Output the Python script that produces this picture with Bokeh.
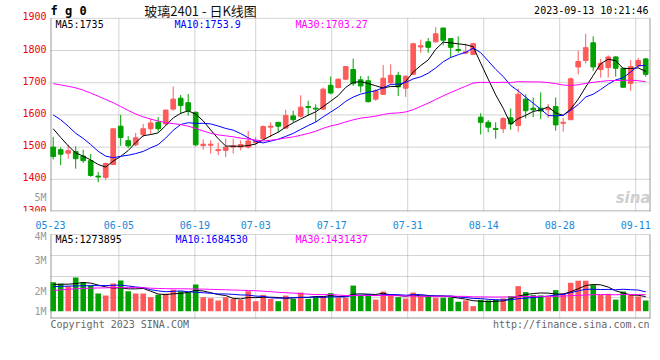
import numpy as np
from bokeh.plotting import figure
from bokeh.models import FixedTicker, ColumnDataSource, Range1d
from bokeh.layouts import column
from bokeh.embed import file_html
from bokeh.resources import INLINE
from bokeh.core.properties import value

# ---------------- data ----------------
dates = ["05-23", "05-24", "05-25", "05-26", "05-29", "05-30", "05-31", "06-01", "06-02", "06-05",
         "06-06", "06-07", "06-08", "06-09", "06-12", "06-13", "06-14", "06-15", "06-16", "06-19",
         "06-20", "06-21", "06-26", "06-27", "06-28", "06-29", "06-30", "07-03", "07-04", "07-05",
         "07-06", "07-07", "07-10", "07-11", "07-12", "07-13", "07-14", "07-17", "07-18", "07-19",
         "07-20", "07-21", "07-24", "07-25", "07-26", "07-27", "07-28", "07-31", "08-01", "08-02",
         "08-03", "08-04", "08-07", "08-08", "08-09", "08-10", "08-11", "08-14", "08-15", "08-16",
         "08-17", "08-18", "08-21", "08-22", "08-23", "08-24", "08-25", "08-28", "08-29", "08-30",
         "08-31", "09-01", "09-04", "09-05", "09-06", "09-07", "09-08", "09-11", "09-12", "09-13"]

opens = [1500, 1492, 1481, 1486, 1472, 1458, 1410, 1406, 1446, 1565,
         1520, 1507, 1539, 1557, 1577, 1572, 1618, 1652, 1638, 1608,
         1505, 1506, 1489, 1490, 1500, 1500, 1500, 1514, 1526, 1562,
         1577, 1559, 1597, 1596, 1626, 1621, 1618, 1692, 1685, 1711,
         1741, 1709, 1706, 1649, 1664, 1700, 1723, 1683, 1726, 1811,
         1827, 1827, 1870, 1837, 1803, 1792, 1788, 1593, 1577, 1558,
         1557, 1591, 1567, 1649, 1621, 1621, 1616, 1626, 1574, 1585,
         1749, 1769, 1824, 1741, 1747, 1780, 1745, 1698, 1752, 1774]
highs = [1531, 1499, 1507, 1502, 1492, 1479, 1423, 1452, 1557, 1600,
         1534, 1544, 1572, 1589, 1593, 1615, 1688, 1662, 1665, 1611,
         1524, 1521, 1514, 1526, 1526, 1521, 1550, 1531, 1567, 1577,
         1577, 1616, 1613, 1661, 1644, 1633, 1685, 1719, 1713, 1752,
         1775, 1721, 1721, 1680, 1755, 1757, 1734, 1723, 1824, 1834,
         1839, 1872, 1870, 1839, 1844, 1821, 1824, 1605, 1584, 1577,
         1593, 1620, 1682, 1664, 1654, 1670, 1634, 1654, 1591, 1716,
         1800, 1852, 1844, 1774, 1785, 1783, 1747, 1770, 1777, 1777]
lows = [1462, 1444, 1464, 1433, 1451, 1408, 1391, 1398, 1444, 1504,
        1497, 1503, 1531, 1539, 1548, 1567, 1613, 1603, 1598, 1503,
        1492, 1480, 1475, 1469, 1480, 1490, 1495, 1505, 1524, 1531,
        1546, 1557, 1577, 1592, 1598, 1577, 1616, 1664, 1682, 1708,
        1690, 1670, 1639, 1644, 1662, 1695, 1659, 1656, 1724, 1793,
        1793, 1825, 1816, 1777, 1793, 1788, 1786, 1539, 1546, 1526,
        1544, 1554, 1548, 1589, 1593, 1587, 1591, 1551, 1548, 1585,
        1726, 1760, 1736, 1716, 1716, 1719, 1685, 1675, 1747, 1719]
closes = [1471, 1478, 1489, 1464, 1458, 1412, 1407, 1449, 1557, 1530,
          1504, 1529, 1557, 1575, 1557, 1615, 1649, 1629, 1613, 1507,
          1509, 1509, 1492, 1500, 1504, 1508, 1519, 1518, 1564, 1565,
          1565, 1598, 1585, 1624, 1623, 1618, 1680, 1668, 1711, 1750,
          1697, 1690, 1641, 1675, 1714, 1723, 1687, 1720, 1821, 1815,
          1810, 1852, 1832, 1810, 1800, 1796, 1821, 1577, 1562, 1555,
          1589, 1572, 1664, 1613, 1616, 1612, 1620, 1569, 1577, 1712,
          1766, 1809, 1749, 1760, 1780, 1745, 1686, 1750, 1769, 1726]

ma5 = [1557, 1530, 1504, 1482, 1472.0, 1460.2, 1446.0, 1438.0, 1456.6, 1471.0,
       1489.4, 1513.8, 1535.4, 1539.0, 1544.4, 1566.6, 1590.6, 1605.0, 1612.6, 1602.6,
       1581.4, 1553.4, 1526.0, 1503.4, 1502.8, 1502.6, 1504.6, 1509.8, 1522.6, 1534.8,
       1546.2, 1562.0, 1575.4, 1587.4, 1599.0, 1609.6, 1626.0, 1642.6, 1660.0, 1685.4,
       1701.2, 1703.2, 1697.8, 1690.6, 1683.4, 1688.6, 1688.0, 1703.8, 1733.0, 1753.2,
       1770.6, 1803.6, 1826.0, 1823.8, 1820.8, 1818.0, 1811.8, 1760.8, 1711.2, 1662.2,
       1620.8, 1571.0, 1588.4, 1598.6, 1610.8, 1615.4, 1625.0, 1606.0, 1598.8, 1618.0,
       1648.8, 1686.6, 1722.6, 1759.2, 1772.8, 1768.6, 1744.0, 1744.2, 1746.0, 1735.2]
ma10 = [1600, 1585, 1565, 1543, 1527, 1508, 1487, 1472, 1467, 1471.5,
        1474.8, 1479.9, 1486.7, 1497.8, 1507.7, 1528.0, 1552.2, 1570.2, 1575.8, 1573.5,
        1574.0, 1572.0, 1565.5, 1558.0, 1552.7, 1542.0, 1529.0, 1517.9, 1513.0, 1518.8,
        1524.4, 1533.3, 1542.6, 1555.0, 1566.9, 1577.9, 1594.0, 1609.0, 1623.7, 1642.2,
        1655.4, 1664.6, 1670.2, 1675.3, 1684.4, 1694.9, 1695.6, 1700.8, 1711.8, 1718.3,
        1729.6, 1745.8, 1764.9, 1778.4, 1787.0, 1794.3, 1807.7, 1793.4, 1767.5, 1741.5,
        1719.4, 1691.4, 1674.6, 1654.9, 1636.5, 1618.1, 1598.0, 1597.2, 1598.7, 1614.4,
        1632.1, 1655.8, 1664.3, 1679.0, 1695.4, 1708.7, 1715.3, 1733.4, 1752.6, 1754.0]
ma30 = [1697, 1693, 1689, 1684, 1677, 1668, 1658, 1648, 1638, 1626,
        1614, 1603, 1594, 1587, 1581, 1576, 1573, 1570, 1565, 1558,
        1550, 1543, 1538, 1535, 1532, 1528, 1525, 1522, 1519, 1521.3,
        1524.4, 1528.4, 1531.6, 1536.9, 1542.4, 1549.3, 1558.4, 1565.7, 1570.8, 1578.2,
        1584.6, 1590.0, 1592.8, 1596.1, 1601.3, 1604.9, 1606.2, 1609.2, 1616.2, 1626.4,
        1636.5, 1647.9, 1659.2, 1669.6, 1679.4, 1689.0, 1699.1, 1701.1, 1701.0, 1700.7,
        1701.5, 1700.6, 1703.2, 1702.9, 1702.6, 1702.4, 1700.4, 1697.1, 1692.7, 1691.4,
        1693.7, 1697.7, 1701.3, 1704.1, 1706.3, 1707.0, 1707.0, 1708.0, 1706.3, 1703.3]

# volume, millions
volumes = [2.52, 2.38, 2.14, 2.93, 2.52, 2.23, 1.54, 1.36, 2.41, 2.67,
           1.74, 1.54, 1.54, 1.22, 1.42, 1.51, 1.86, 1.74, 1.65, 2.32,
           1.22, 1.13, 0.93, 1.22, 1.07, 0.99, 1.74, 0.87, 1.42, 1.07,
           0.87, 1.36, 1.07, 1.62, 1.07, 1.28, 1.28, 1.57, 1.16, 1.16,
           2.23, 1.42, 1.45, 1.01, 1.71, 1.45, 1.22, 1.10, 1.62, 1.28,
           1.40, 1.17, 1.17, 1.17, 0.82, 0.94, 0.44, 0.99, 0.94, 0.99,
           1.11, 1.31, 2.18, 1.66, 1.40, 1.37, 1.23, 1.83, 1.57, 2.47,
           2.65, 2.65, 2.27, 1.42, 1.51, 1.01, 1.71, 1.42, 1.28, 0.93]
vol_ma5 = [2.32, 2.35, 2.35, 2.40, 2.498, 2.44, 2.272, 2.116, 2.012, 2.042,
           1.944, 1.944, 1.98, 1.742, 1.492, 1.446, 1.51, 1.55, 1.636, 1.816,
           1.758, 1.612, 1.45, 1.364, 1.114, 1.068, 1.19, 1.178, 1.218, 1.218,
           1.194, 1.118, 1.158, 1.198, 1.198, 1.28, 1.264, 1.364, 1.272, 1.29,
           1.48, 1.508, 1.484, 1.454, 1.564, 1.408, 1.368, 1.298, 1.42, 1.334,
           1.324, 1.314, 1.328, 1.238, 1.146, 1.054, 0.908, 0.872, 0.826, 0.86,
           0.894, 1.068, 1.306, 1.45, 1.532, 1.584, 1.568, 1.498, 1.48, 1.694,
           1.95, 2.234, 2.322, 2.292, 2.10, 1.772, 1.584, 1.414, 1.386, 1.27]
vol_ma10 = [2.13, 2.16, 2.18, 2.20, 2.21, 2.22, 2.22, 2.23, 2.25, 2.27,
            2.192, 2.108, 2.048, 1.877, 1.767, 1.695, 1.727, 1.765, 1.689, 1.654,
            1.602, 1.561, 1.50, 1.50, 1.465, 1.413, 1.401, 1.314, 1.291, 1.166,
            1.131, 1.154, 1.168, 1.208, 1.208, 1.237, 1.191, 1.261, 1.235, 1.244,
            1.38, 1.386, 1.424, 1.363, 1.427, 1.444, 1.438, 1.391, 1.437, 1.449,
            1.366, 1.341, 1.313, 1.329, 1.24, 1.189, 1.111, 1.10, 1.032, 1.003,
            0.974, 0.988, 1.089, 1.138, 1.196, 1.239, 1.318, 1.402, 1.465, 1.613,
            1.767, 1.901, 1.91, 1.886, 1.897, 1.861, 1.909, 1.868, 1.839, 1.685]
vol_ma30 = [1.80, 1.85, 1.90, 1.95, 1.98, 2.00, 2.02, 2.03, 2.05, 2.05,
            2.05, 2.05, 2.04, 2.00, 1.98, 1.96, 1.95, 1.95, 1.94, 1.93,
            1.92, 1.90, 1.88, 1.86, 1.84, 1.82, 1.80, 1.78, 1.74, 1.697,
            1.642, 1.608, 1.572, 1.528, 1.48, 1.448, 1.44, 1.447, 1.405, 1.355,
            1.371, 1.367, 1.364, 1.357, 1.367, 1.365, 1.343, 1.322, 1.321, 1.286,
            1.292, 1.294, 1.302, 1.30, 1.292, 1.29, 1.247, 1.251, 1.235, 1.232,
            1.24, 1.238, 1.275, 1.277, 1.288, 1.291, 1.289, 1.298, 1.311, 1.355,
            1.369, 1.41, 1.437, 1.451, 1.444, 1.43, 1.446, 1.457, 1.445, 1.434]

price_ticks = [1300, 1400, 1500, 1600, 1700, 1800, 1900]
date_tick_labels = ["05-23", "06-05", "06-19", "07-03", "07-17", "07-31", "08-14", "08-28", "09-11"]
vol_tick_labels = ["1M", "2M", "3M", "4M"]

title_text = "玻璃2401 - 日K线图"
symbol_text = "f g 0"
time_text = "2023-09-13 10:21:46"
ma_texts = ["MA5:1735", "MA10:1753.9", "MA30:1703.27"]
vol_ma_texts = ["MA5:1273895", "MA10:1684530", "MA30:1431437"]

# ---------------- styling / layout ----------------
RED = "#ff5a5a"
GREEN = "#00a000"
MA_COLORS = ["#000000", "#0000ff", "#ff00ff"]
GRID = "#a8a8a8"
BORDER = "#999999"
MONO = "DejaVu Sans Mono"

n = len(dates)
x = np.arange(n)
o = np.array(opens); c = np.array(closes)
colors = [RED if cc >= oo else GREEN for oo, cc in zip(o, c)]
src = ColumnDataSource(dict(x=x, high=highs, low=lows, top=np.maximum(o, c), bot=np.minimum(o, c),
                            color=colors, vol=volumes, ma5=ma5, ma10=ma10, ma30=ma30,
                            vma5=vol_ma5, vma10=vol_ma10, vma30=vol_ma30))

# pixel helpers (layout only): candle i sits at 52.7 + 7.5*i px
PX0, PXS = 52.7, 7.5
def X(s):
    return (s - PX0) / PXS
def Y(s):            # price panel: 1900 at 18px, 1300 at 213px
    return 1900 - (s - 18) / 0.325
def V(s):            # volume panel (page px), 0 at 310.7px, 11.5 px per million
    return (310.7 - s) / 11.5

xr = Range1d(X(0), X(660))
tick_pos = [round(X(50 + 7.6 * dates.index(d)), 3) for d in date_tick_labels]
L, R = X(50), X(650)

def txt(fig, xs, ys, texts, color, size="10px", align="left", font=MONO, style="normal", yoff=0):
    fig.text(x=xs, y=ys, text=texts, text_color=color, text_font=value(font),
             text_font_size=value(size), text_font_style=value(style), text_align=align,
             text_baseline="middle", y_offset=yoff)

def base(fig):
    fig.outline_line_color = None
    fig.background_fill_color = "white"
    fig.border_fill_color = "white"
    for g in fig.grid:
        g.visible = False

# ---------------- price panel ----------------
p = figure(width=660, height=231, x_range=xr, y_range=Range1d(Y(213), Y(0)),
           output_backend="svg", toolbar_location=None, y_axis_type=None,
           min_border_left=0, min_border_right=0, min_border_top=0, min_border_bottom=18)
base(p)
p.xaxis.ticker = FixedTicker(ticks=tick_pos)
p.xaxis.major_label_overrides = {t: lab for t, lab in zip(tick_pos, date_tick_labels)}
p.xaxis.major_label_text_color = "#1a88d8"
p.xaxis.major_label_text_font = MONO
p.xaxis.major_label_text_font_size = "10px"
p.xaxis.major_label_standoff = 3
p.xaxis.major_tick_line_color = None
p.xaxis.minor_tick_line_color = None
p.xaxis.axis_line_color = None

# grid (dotted) and frame
gy = price_ticks[1:]
p.segment(x0=[L] * len(gy), y0=gy, x1=[R] * len(gy), y1=gy, line_color=GRID, line_dash="1 1")
gx = tick_pos[1:]
p.segment(x0=gx, y0=[price_ticks[0]] * len(gx), x1=gx, y1=[price_ticks[-1]] * len(gx),
          line_color=GRID, line_dash="1 1")
p.segment(x0=[X(50.5), X(649.5), L], y0=[Y(213), Y(213), Y(212.5)],
          x1=[X(50.5), X(649.5), R], y1=[Y(18), Y(18), Y(212.5)], line_color=BORDER, line_width=1)

p.segment(x0="x", y0="low", x1="x", y1="high", line_color="color", line_width=1, source=src)
p.vbar(x="x", top="top", bottom="bot", width=0.62, fill_color="color", line_color="color",
       line_width=1, source=src)
for col, colr in zip(["ma5", "ma10", "ma30"], MA_COLORS):
    p.line(x="x", y=col, line_color=colr, line_width=1, source=src)

txt(p, [X(46)] * len(price_ticks), price_ticks, [str(t) for t in price_ticks], "#ee0000",
    align="right", yoff=-2)
txt(p, [X(46)], [Y(199)], ["5M"], "#999999", align="right")
for t, left, colr in zip(ma_texts, [55, 174, 295], MA_COLORS):
    txt(p, [X(left)], [Y(24)], [t], colr)
txt(p, [X(50)], [Y(10.5)], [symbol_text], "#000000", size="12px", style="bold")
txt(p, [X(200)], [Y(10)], [title_text], "#111111", size="13px", align="center",
    font="Noto Sans CJK SC")
txt(p, [X(648)], [Y(10.5)], [time_text], "#000000", align="right")
txt(p, [X(650)], [Y(199)], ["sina"], "#cfcfcf", size="15px", align="right",
    font="DejaVu Sans", style="bold italic")

# ---------------- volume panel ----------------
v = figure(width=660, height=100, x_range=xr, y_range=Range1d(V(331), V(231)),
           output_backend="svg", toolbar_location=None, x_axis_type=None, y_axis_type=None,
           min_border_left=0, min_border_right=0, min_border_top=0, min_border_bottom=0)
base(v)
vgy = [V(234), V(255), V(276), V(297)]
v.segment(x0=[L] * 4, y0=vgy, x1=[R] * 4, y1=vgy, line_color=GRID, line_dash="1 1")
v.segment(x0=gx, y0=[V(318)] * len(gx), x1=gx, y1=[V(234)] * len(gx), line_color=GRID,
          line_dash="1 1")
v.segment(x0=[X(50.5), X(649.5), L], y0=[V(318), V(318), V(317.5)],
          x1=[X(50.5), X(649.5), R], y1=[V(234), V(234), V(317.5)], line_color=BORDER,
          line_width=1)

v.vbar(x="x", top="vol", bottom=0, width=0.74, fill_color="color", line_color=None, source=src)
for col, colr in zip(["vma5", "vma10", "vma30"], MA_COLORS):
    v.line(x="x", y=col, line_color=colr, line_width=1, source=src)

txt(v, [X(46)] * 4, [V(311), V(290.7), V(260), V(236)], vol_tick_labels, "#999999", align="right")
for t, left, colr in zip(vol_ma_texts, [55, 175, 295], MA_COLORS):
    txt(v, [X(left)], [V(238.5)], [t], colr)
txt(v, [X(50)], [V(323.5)], ["Copyright 2023 SINA.COM"], "#666666")
txt(v, [X(649)], [V(323.5)], ["http://finance.sina.com.cn"], "#666666", align="right")

layout = column(p, v, spacing=0)
open("out.html", "w").write(file_html(layout, INLINE))
